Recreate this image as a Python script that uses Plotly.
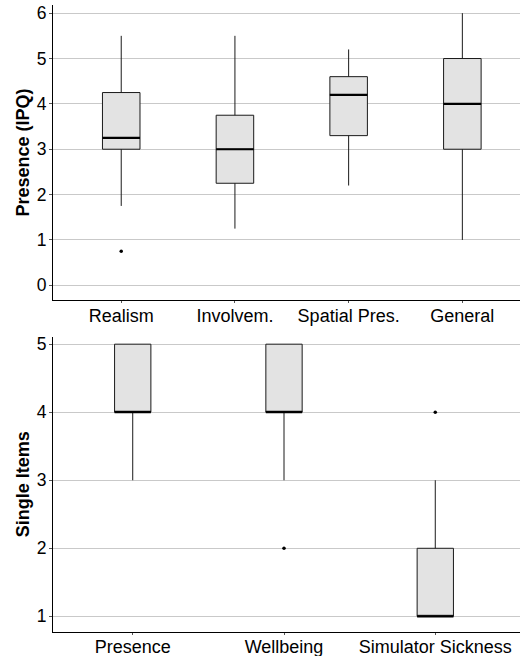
import plotly.graph_objects as go

W, H = 520, 656

# ---- Data: top panel (IPQ subscales) ----
ipq_cats = ["Realism", "Involvem.", "Spatial Pres.", "General"]
ipq_low = [1.75, 1.25, 2.2, 1.0]
ipq_q1 = [3.0, 2.25, 3.3, 3.0]
ipq_med = [3.25, 3.0, 4.2, 4.0]
ipq_q3 = [4.25, 3.75, 4.6, 5.0]
ipq_high = [5.5, 5.5, 5.2, 6.0]
ipq_out_cat = ["Realism"]
ipq_out_val = [0.75]

# ---- Data: bottom panel (single items) ----
si_cats = ["Presence", "Wellbeing", "Simulator Sickness"]
si_low = [3, 3, 1]
si_q1 = [4, 4, 1]
si_med = [4, 4, 1]
si_q3 = [5, 5, 2]
si_high = [5, 5, 3]
si_out_cat = ["Wellbeing", "Simulator Sickness"]
si_out_val = [2, 4]

FILL = "#e3e3e3"
LINE = "#1a1a1a"
GRID = "#c9c9c9"
FONT = "Liberation Sans, Arial, Helvetica, sans-serif"

fig = go.Figure()

def add_panel(cats, low, q1, med, q3, high, out_cat, out_val, xa, ya, bw):
    xs = list(range(len(cats)))
    fig.add_trace(go.Box(
        x=xs, q1=q1, median=med, q3=q3, lowerfence=low, upperfence=high,
        width=bw, whiskerwidth=0, fillcolor=FILL,
        line=dict(color=LINE, width=1), boxpoints=False,
        xaxis=xa, yaxis=ya, showlegend=False, hoverinfo="skip"))
    # thicker median segments
    mx, my = [], []
    for x, m in zip(xs, med):
        mx += [x - bw / 2, x + bw / 2, None]
        my += [m, m, None]
    fig.add_trace(go.Scatter(x=mx, y=my, mode="lines",
                             line=dict(color="black", width=2.2),
                             xaxis=xa, yaxis=ya, showlegend=False, hoverinfo="skip"))
    ox = [cats.index(c) for c in out_cat]
    fig.add_trace(go.Scatter(x=ox, y=out_val, mode="markers",
                             marker=dict(color="black", size=3.5),
                             xaxis=xa, yaxis=ya, showlegend=False, hoverinfo="skip"))

add_panel(ipq_cats, ipq_low, ipq_q1, ipq_med, ipq_q3, ipq_high,
          ipq_out_cat, ipq_out_val, "x", "y", 0.33)
add_panel(si_cats, si_low, si_q1, si_med, si_q3, si_high,
          si_out_cat, si_out_val, "x2", "y2", 0.24)

x0 = 53 / W
xcommon = dict(showline=True, linecolor="black", linewidth=1,
               ticks="outside", ticklen=2, tickcolor="#555555",
               tickfont=dict(size=18, color="black", family=FONT),
               zeroline=False, automargin=False, ticklabelstandoff=-3)
ycommon = dict(showline=True, linecolor="black", linewidth=1,
               ticks="outside", ticklen=3, tickcolor="#555555",
               tickfont=dict(size=17.5, color="black", family=FONT),
               zeroline=False, automargin=False, ticklabelstandoff=-1)

fig.update_layout(
    width=W, height=H,
    margin=dict(l=0, r=0, t=0, b=0),
    plot_bgcolor="white", paper_bgcolor="white",
    font=dict(family=FONT, color="black"),
    xaxis=dict(domain=[x0, 1], range=[-0.6, 3.507],
               tickvals=list(range(len(ipq_cats))), ticktext=ipq_cats,
               showgrid=False, anchor="y", **xcommon),
    yaxis=dict(domain=[1 - 300 / H, 1 - 5 / H], range=[-0.324, 6.18],
               tickvals=[0, 1, 2, 3, 4, 5, 6], showgrid=True, gridcolor=GRID, gridwidth=1,
               anchor="x",
               title=dict(text="<b>Presence (IPQ)</b>", font=dict(size=18, family=FONT), standoff=2),
               **ycommon),
    xaxis2=dict(domain=[x0, 1], range=[-0.527, 2.56],
                tickvals=list(range(len(si_cats))), ticktext=si_cats,
                showgrid=False, anchor="y2", **xcommon),
    yaxis2=dict(domain=[1 - 631.7 / H, 1 - 336.7 / H], range=[0.774, 5.11],
                tickvals=[1, 2, 3, 4, 5], showgrid=True, gridcolor=GRID, gridwidth=1,
                anchor="x2",
                title=dict(text="<b>Single Items</b>", font=dict(size=18, family=FONT), standoff=2),
                **ycommon),
)

fig.write_html("out.html", config={"displayModeBar": False},
               post_script="document.body.style.margin='0';document.body.style.overflow='hidden';")
